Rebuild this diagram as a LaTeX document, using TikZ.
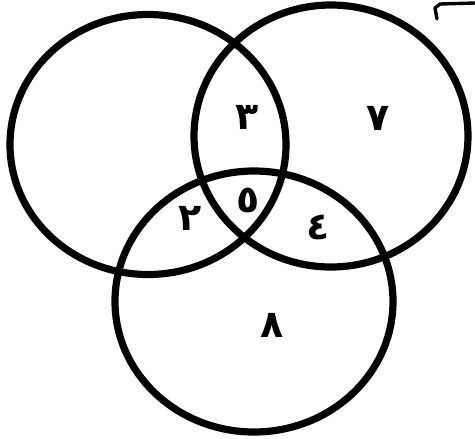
\documentclass[tikz,border=0pt]{standalone}
\usepackage{fontspec}
\newfontfamily\arabicfont[Script=Arabic]{DejaVu Sans}
\usepackage{xcolor}
\definecolor{Ink}{HTML}{000000}

\tikzset{
  setring/.style={draw=Ink,line width=1.8mm},
  region/.style={text=Ink,inner sep=0pt,font=\arabicfont\bfseries\fontsize{27}{27}\selectfont}
}

\begin{document}
\begin{tikzpicture}[x=0.25mm,y=-0.25mm]
\useasboundingbox (0,0) rectangle (475,438);
% the three sets
\draw[setring] (148,144.5) ellipse (138 and 130);
\draw[setring] (331,136) ellipse (137 and 131);
\draw[setring] (254,301.5) ellipse (139 and 130.5);
% cut-off mark in the corner
\draw[Ink,line width=0.85mm,line cap=round,line join=round] (437,19) -- (435,8) -- (440,4) -- (475,3);
% counts
\node[region] (three) at (247,117) {٣};
\node[region] (seven) at (378,118) {٧};
\node[region] (two) at (190,218) {٢};
\node[region] (five) at (248,200) {٥};
\node[region] (four) at (318,227) {٤};
\node[region] (eight) at (272,325) {٨};
\end{tikzpicture}
\end{document}
